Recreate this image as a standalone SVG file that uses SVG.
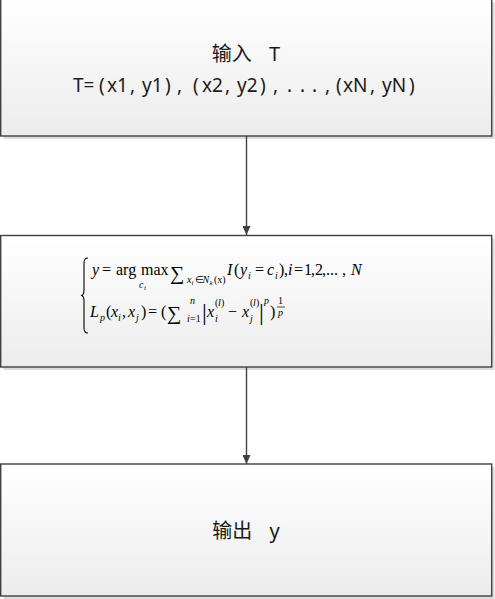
<svg xmlns="http://www.w3.org/2000/svg" width="495" height="599" viewBox="0 0 495 599">
<defs>
<linearGradient id="g" x1="0" y1="0" x2="0" y2="1">
<stop offset="0" stop-color="#ffffff"/>
<stop offset="1" stop-color="#ececec"/>
</linearGradient>
<marker id="ah" markerWidth="9" markerHeight="8" refX="9" refY="4" orient="auto" markerUnits="userSpaceOnUse" viewBox="0 0 9 8">
<path d="M0,0 L9,4 L0,8 Z" fill="#404040"/>
</marker>
<style>
.box{fill:url(#g);stroke:#404040;stroke-width:1.4}
.sh{fill:#dcdcdc}
.cn{font-family:"Noto Sans","Noto Sans CJK SC","Microsoft YaHei",sans-serif;font-size:20px;fill:#1a1a1a}
.ln{font-size:19px}
.mid{text-anchor:middle}
.m{font-family:"Liberation Serif","Times New Roman",serif;font-size:16px;fill:#000}
.i{font-style:italic}
.s{font-size:10px}
.t{font-size:7px}
.big{font-size:20px}
.bar{font-size:24px}
.conn{stroke:#404040;stroke-width:1.4;fill:none}
</style>
</defs>
<g id="node-input">
<rect class="sh" x="3.5" y="2" width="491" height="137"/>
<rect class="box" x="0.7" y="-1" width="491" height="137"/>
<text class="cn mid" x="246" y="61" style="word-spacing:12px">输入 T</text>
<text class="cn ln" y="92"><tspan x="73">T=</tspan><tspan x="99">(</tspan><tspan x="107">x1</tspan><tspan x="130">,</tspan><tspan x="142">y1</tspan><tspan x="165">)</tspan><tspan x="177">,</tspan><tspan x="193">(</tspan><tspan x="202">x2</tspan><tspan x="225">,</tspan><tspan x="237">y2</tspan><tspan x="260">)</tspan><tspan x="273">,</tspan><tspan x="287">.</tspan><tspan x="300">.</tspan><tspan x="312">.</tspan><tspan x="325">,</tspan><tspan x="336">(</tspan><tspan x="343">xN</tspan><tspan x="370">,</tspan><tspan x="382">yN</tspan><tspan x="409">)</tspan></text>
</g>
<g id="node-formula">
<rect class="sh" x="3.5" y="238.5" width="491" height="131.5"/>
<rect class="box" x="0.7" y="235.5" width="491" height="131.5"/>
<path d="M88,258 Q84,258 84,263 L84,290 Q84,295.5 81,295.5 Q84,295.5 84,301 L84,328 Q84,333 88,333" fill="none" stroke="#000" stroke-width="1.1"/>
<text class="m" y="275"><tspan class="i" x="92">y</tspan><tspan x="102">=</tspan><tspan x="116">arg</tspan><tspan x="141">max</tspan><tspan class="big" x="170" y="280">∑</tspan><tspan class="s i" x="187" y="283">x</tspan><tspan class="t i" x="191.5" y="285">i</tspan><tspan class="s" x="194.5" y="283">∈</tspan><tspan class="s i" x="202.5" y="283">N</tspan><tspan class="t i" x="209.5" y="285">k</tspan><tspan class="s" x="214" y="283">(x)</tspan><tspan class="i" x="227" y="275">I</tspan><tspan x="234">(</tspan><tspan class="i" x="240">y</tspan><tspan class="s i" x="248" y="279">i</tspan><tspan x="255" y="275">=</tspan><tspan class="i" x="267">c</tspan><tspan class="s i" x="275" y="279">i</tspan><tspan x="279" y="275">)</tspan><tspan x="284">,</tspan><tspan class="i" x="288">i</tspan><tspan x="294">=</tspan><tspan x="304">1</tspan><tspan x="311">,</tspan><tspan x="315">2</tspan><tspan x="322">,</tspan><tspan x="326">...</tspan><tspan x="342">,</tspan><tspan class="i" x="351">N</tspan></text>
<text class="m s i" x="139" y="288">c</text>
<text class="m t i" x="144" y="290">i</text>
<text class="m" y="317"><tspan class="i" x="90">L</tspan><tspan class="s i" x="100" y="321">p</tspan><tspan x="106" y="317">(</tspan><tspan class="i" x="111">x</tspan><tspan class="s i" x="118" y="321">i</tspan><tspan x="122" y="317">,</tspan><tspan class="i" x="128">x</tspan><tspan class="s i" x="136" y="321">j</tspan><tspan x="141" y="317">)</tspan><tspan x="148">=</tspan><tspan x="161">(</tspan><tspan class="big" x="167" y="320">∑</tspan><tspan class="s i" x="190" y="304">n</tspan><tspan class="s i" x="187" y="322">i</tspan><tspan class="s" x="190" y="322">=1</tspan></text>
<text class="m bar" x="202" y="320">|</text>
<text class="m" y="317"><tspan class="i" x="207">x</tspan><tspan class="s" x="215" y="306">(</tspan><tspan class="s i" x="218" y="306">l</tspan><tspan class="s" x="221" y="306">)</tspan><tspan class="s i" x="215" y="322">i</tspan><tspan x="228" y="317">−</tspan><tspan class="i" x="242">x</tspan><tspan class="s" x="250" y="306">(</tspan><tspan class="s i" x="253" y="306">l</tspan><tspan class="s" x="256" y="306">)</tspan><tspan class="s i" x="250" y="322">j</tspan></text>
<text class="m bar" x="259" y="320">|</text>
<text class="m" y="317"><tspan class="s i" x="264" y="304">p</tspan><tspan x="270" y="317">)</tspan><tspan class="s" x="278" y="304">1</tspan><tspan class="s i" x="278" y="316">p</tspan></text>
<line x1="277" y1="307" x2="285" y2="307" stroke="#000" stroke-width="0.7"/>
</g>
<g id="node-output">
<rect class="sh" x="3.5" y="467" width="491" height="132"/>
<rect class="box" x="0.7" y="464" width="491" height="132"/>
<text class="cn mid" x="246" y="538" style="word-spacing:12px">输出 y</text>
</g>
<g id="connectors">
<line class="conn" x1="246.5" y1="136" x2="246.5" y2="235" marker-end="url(#ah)"/>
<line class="conn" x1="246.5" y1="367" x2="246.5" y2="464" marker-end="url(#ah)"/>
</g>
</svg>
